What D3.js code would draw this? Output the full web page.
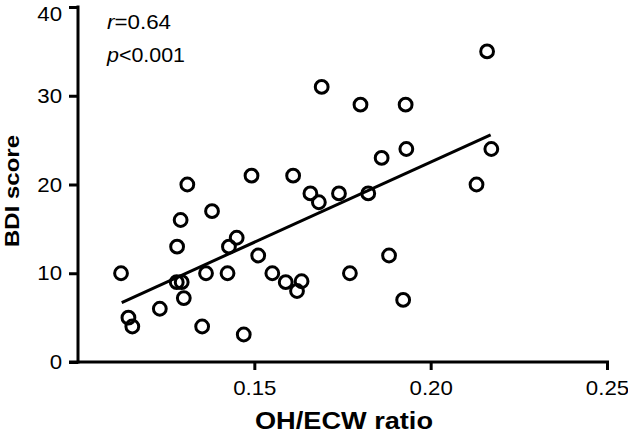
<!DOCTYPE html>
<html>
<head>
<meta charset="utf-8">
<script src="https://cdn.jsdelivr.net/npm/d3@7"></script>
<style>
  html, body { margin: 0; padding: 0; background: #ffffff; }
  svg { display: block; }
  text { font-family: "Liberation Sans", Arial, Helvetica, sans-serif; fill: #000; }
</style>
</head>
<body>
<svg id="chart" width="628" height="433"></svg>
<script>
// ---- data ----
const ohEcw = [0.1122,0.1143,0.1154,0.1232,0.1281,0.1291,0.1280,0.1294,0.1300,0.1310,0.1352,0.1363,0.1380,0.1424,0.1428,0.1450,0.1470,0.1492,0.1511,0.1551,0.1589,0.1610,0.1621,0.1634,0.1659,0.1683,0.1691,0.1740,0.1771,0.1801,0.1823,0.1861,0.1882,0.1922,0.1929,0.1931,0.2130,0.2160,0.2172];
const bdi    = [10,5,4,6,13,16,9,9,7.2,20,4,10,17,10,13,14,3.1,21,12,10,9,21,8,9.1,19,18,31,19,10,29,19,23,12,7,29,24,20,35,24];
const fitX = [0.1124, 0.2170];
const fitY = [6.7, 25.6];
const xTicks = [0.15, 0.20, 0.25];
const yTicks = [0, 10, 20, 30, 40];
const xTitle = "OH/ECW ratio";
const yTitle = "BDI score";
const statR = "0.64";
const statP = "0.001";

// ---- chart ----
const svg = d3.select("#chart");
const x = d3.scaleLinear().domain([0.10, 0.25]).range([78, 607]);
const y = d3.scaleLinear().domain([0, 40]).range([362, 7]);

function stretch(sel, f) {
  sel.each(function () {
    const w = this.getComputedTextLength();
    d3.select(this).attr("textLength", w * f).attr("lengthAdjust", "spacingAndGlyphs");
  });
}

// x axis
const gx = svg.append("g").attr("transform", "translate(0,362)")
  .call(d3.axisBottom(x).tickValues(xTicks).tickFormat(d3.format(".2f")).tickSize(8).tickPadding(10).tickSizeOuter(0));
gx.select(".domain").attr("stroke", "#000").attr("stroke-width", 3).attr("d", "M69,0H609");
gx.selectAll(".tick line").attr("stroke", "#000").attr("stroke-width", 3);
gx.selectAll(".tick text").style("font-size", "21px").attr("fill", "#000");
stretch(gx.selectAll(".tick text"), 1.06);

// y axis
const gy = svg.append("g").attr("transform", "translate(78,0)")
  .call(d3.axisLeft(y).tickValues(yTicks).tickSize(9).tickPadding(7).tickSizeOuter(0));
gy.select(".domain").attr("stroke", "#000").attr("stroke-width", 3).attr("d", "M0,5.5V363.5");
gy.selectAll(".tick line").attr("stroke", "#000").attr("stroke-width", 3);
gy.selectAll(".tick text").style("font-size", "21px").attr("fill", "#000")
  .attr("dy", d => d === 40 ? "0.62em" : "0.32em");
stretch(gy.selectAll(".tick text"), 1.06);

// regression line
svg.append("line")
  .attr("x1", x(fitX[0])).attr("y1", y(fitY[0]))
  .attr("x2", x(fitX[1])).attr("y2", y(fitY[1]))
  .attr("stroke", "#000").attr("stroke-width", 3);

// points
svg.append("g").selectAll("circle")
  .data(ohEcw.map((v, i) => [v, bdi[i]]))
  .join("circle")
  .attr("cx", d => x(d[0])).attr("cy", d => y(d[1]))
  .attr("r", 6.4)
  .attr("fill", "none").attr("stroke", "#000").attr("stroke-width", 3);

// stats text
const t1 = svg.append("text").attr("x", 107).attr("y", 29).style("font-size", "20px");
t1.append("tspan").style("font-style", "italic").text("r");
t1.append("tspan").text("=" + statR);
const t2 = svg.append("text").attr("x", 107).attr("y", 62).style("font-size", "20px");
t2.append("tspan").style("font-style", "italic").text("p");
t2.append("tspan").text("<" + statP);
t1.attr("textLength", 64).attr("lengthAdjust", "spacingAndGlyphs");
t2.attr("textLength", 78).attr("lengthAdjust", "spacingAndGlyphs");

// axis titles
svg.append("text").attr("x", 344).attr("y", 429).attr("text-anchor", "middle")
  .style("font-size", "23px").style("font-weight", "bold")
  .attr("textLength", 178).attr("lengthAdjust", "spacingAndGlyphs")
  .text(xTitle);
svg.append("text").attr("transform", "translate(19,191) rotate(-90)").attr("text-anchor", "middle")
  .style("font-size", "21px").style("font-weight", "bold")
  .attr("textLength", 112).attr("lengthAdjust", "spacingAndGlyphs")
  .text(yTitle);
</script>
</body>
</html>
